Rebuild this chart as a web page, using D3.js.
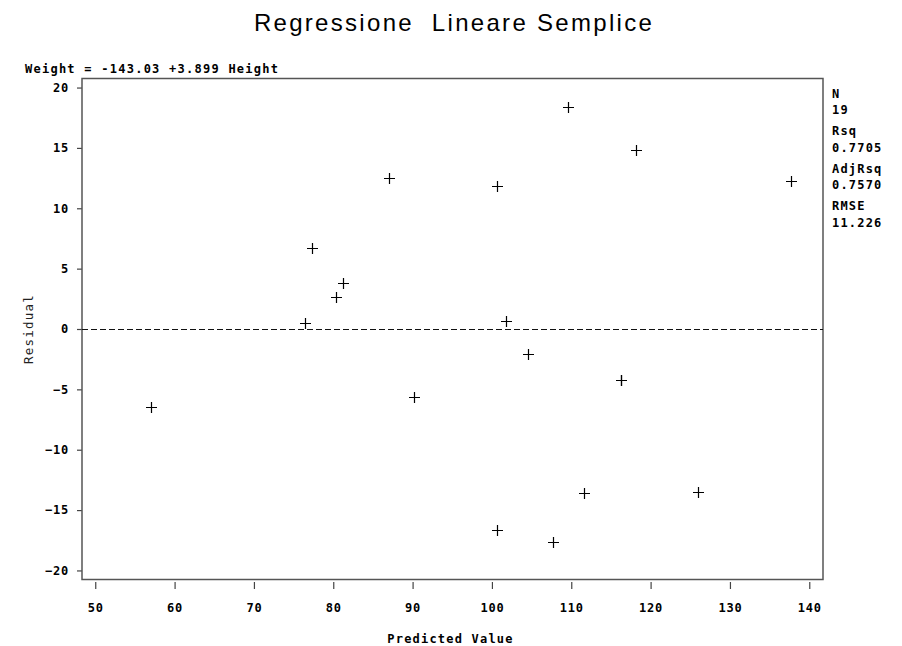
<!DOCTYPE html>
<html><head><meta charset="utf-8">
<script src="https://cdn.jsdelivr.net/npm/d3@7"></script>
<style>body{margin:0;background:#fff}svg{display:block}</style>
</head><body><svg id="c" width="902" height="646"></svg>
<script>
// ---- data ----
const predicted = [126.01, 77.27, 111.58, 101.83, 104.56, 80.39, 90.14, 100.66, 100.66, 87.02,
                   56.99, 107.68, 76.49, 116.26, 137.70, 109.63, 118.21, 81.17, 116.26];
const residual  = [-13.51, 6.73, -13.58, 0.67, -2.06, 2.61, -5.64, 11.84, -16.66, 12.48,
                   -6.49, -17.68, 0.51, -4.26, 12.30, 18.37, 14.79, 3.83, -4.26];
const xTicks = [50, 60, 70, 80, 90, 100, 110, 120, 130, 140];
const yTicks = [-20, -15, -10, -5, 0, 5, 10, 15, 20];
const statLabels = ["N", "Rsq", "AdjRsq", "RMSE"];
const statValues = ["19", "0.7705", "0.7570", "11.226"];
const titleText = "Regressione  Lineare Semplice";
const equationText = "Weight = -143.03 +3.899 Height";
const xLabel = "Predicted Value";
const yLabel = "Residual";
const refLine = 0;

// ---- layout ----
const svg = d3.select("#c");
const L = 82, R = 823, T = 78.5, B = 579.5;
const mono = "'DejaVu Sans Mono', 'Liberation Mono', monospace";

const x = d3.scaleLinear().domain([48.33, 141.73]).range([L, R]);
const y = d3.scaleLinear().domain([-20.75, 20.75]).range([B, T]);

// title
svg.append("text")
  .attr("x", 454).attr("y", 31)
  .attr("text-anchor", "middle")
  .attr("xml:space", "preserve")
  .style("white-space", "pre")
  .style("font-family", "'Liberation Sans', Arial, sans-serif")
  .style("font-size", "24px")
  .style("letter-spacing", "2.3px")
  .attr("fill", "#000")
  .text(titleText);

// equation
svg.append("text")
  .attr("x", 25).attr("y", 73)
  .style("font-family", mono).style("font-size", "12px").style("font-weight", "bold")
  .style("letter-spacing", "1.25px")
  .text(equationText);

// y axis
const yAxis = svg.append("g").attr("transform", `translate(${L},0)`)
  .call(d3.axisLeft(y).tickValues(yTicks).tickSize(5).tickSizeOuter(0).tickPadding(8));
yAxis.select(".domain").remove();
yAxis.selectAll(".tick line").attr("stroke", "#444").attr("stroke-width", 1.2);
yAxis.selectAll(".tick text")
  .style("font-family", mono).style("font-size", "12px").style("font-weight", "bold")
  .style("letter-spacing", "0.8px").attr("fill", "#000");

// x axis
const xAxis = svg.append("g").attr("transform", `translate(0,${B + 2.5})`)
  .call(d3.axisBottom(x).tickValues(xTicks).tickSize(7).tickSizeOuter(0));
xAxis.select(".domain").remove();
xAxis.selectAll(".tick line").attr("stroke", "#444").attr("stroke-width", 1.2);
xAxis.selectAll(".tick text")
  .attr("dy", null).attr("y", 30)
  .style("font-family", mono).style("font-size", "12px").style("font-weight", "bold")
  .style("letter-spacing", "0.8px").attr("fill", "#000");

// frame
svg.append("rect")
  .attr("x", L).attr("y", T).attr("width", R - L).attr("height", B - T)
  .attr("fill", "none").attr("stroke", "#555").attr("stroke-width", 1.5);

// reference line at 0
const y0 = Math.round(y(refLine)) + 0.5;
svg.append("line")
  .attr("x1", L).attr("x2", R).attr("y1", y0).attr("y2", y0)
  .attr("stroke", "#111").attr("stroke-width", 1).attr("stroke-dasharray", "6,3");

// points (plus markers)
const pts = predicted.map((p, i) => ({p, r: residual[i]}));
svg.append("g").selectAll("path").data(pts).join("path")
  .attr("transform", d => `translate(${Math.round(x(d.p)) + 0.5},${Math.round(y(d.r)) + 0.5})`)
  .attr("d", "M-5.5,0H5.5M0,-5.5V5.5")
  .attr("stroke", "#000").attr("stroke-width", 1.2).attr("fill", "none");

// axis labels
svg.append("text")
  .attr("x", (L + R) / 2 - 2).attr("y", 643)
  .attr("text-anchor", "middle")
  .style("font-family", mono).style("font-size", "12px").style("font-weight", "bold")
  .style("letter-spacing", "1.2px")
  .text(xLabel);

svg.append("text")
  .attr("transform", `translate(33,${(T + B) / 2}) rotate(-90)`)
  .attr("text-anchor", "middle")
  .style("font-family", mono).style("font-size", "12.5px")
  .style("letter-spacing", "1.2px").attr("fill", "#222")
  .text(yLabel);

// statistics panel
const stats = svg.append("g");
statLabels.forEach((lab, i) => {
  const base = 97.5 + i * 37.5;
  stats.append("text").attr("x", 832).attr("y", base)
    .style("font-family", mono).style("font-size", "12px").style("font-weight", "bold")
    .style("letter-spacing", "1.2px").text(lab);
  stats.append("text").attr("x", 832).attr("y", base + 16.5)
    .style("font-family", mono).style("font-size", "12px").style("font-weight", "bold")
    .style("letter-spacing", "1.2px").text(statValues[i]);
});
</script>
</body></html>
